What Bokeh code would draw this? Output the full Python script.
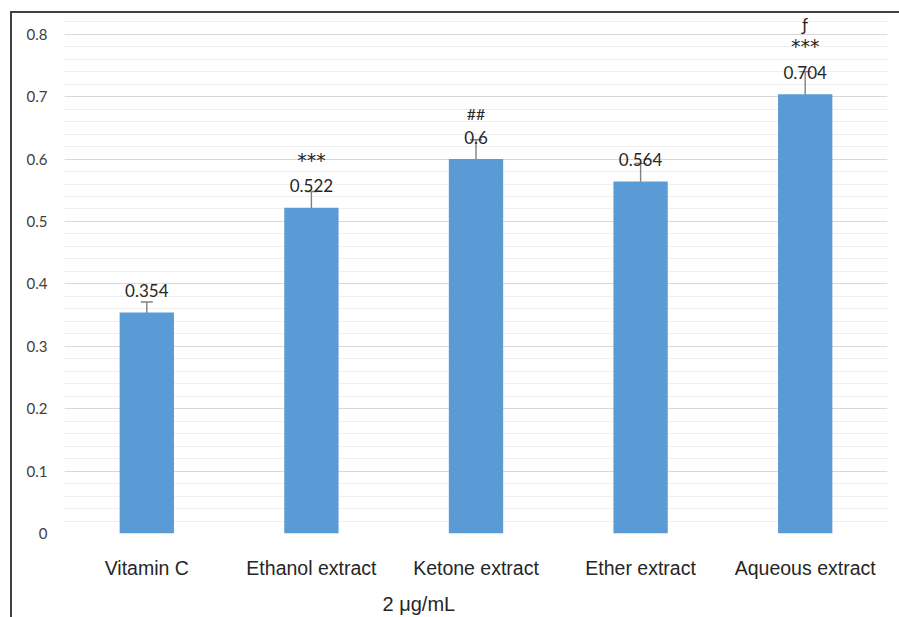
from bokeh.plotting import figure
from bokeh.models import ColumnDataSource, Whisker, TeeHead, Range1d, SingleIntervalTicker, Title
from bokeh.core.properties import value
from bokeh.embed import file_html
from bokeh.resources import INLINE

# Antioxidant response at 2 μg/mL for each sample
categories = ["Vitamin C", "Ethanol extract", "Ketone extract", "Ether extract", "Aqueous extract"]
means = [0.354, 0.522, 0.6, 0.564, 0.704]
errors = [0.017, 0.026, 0.031, 0.029, 0.036]
value_labels = ["0.354", "0.522", "0.6", "0.564", "0.704"]
sig_first = ["", "***", "##", "", "***"]
sig_second = ["", "", "", "", "ƒ"]
x_title = "2 μg/mL"

lower = [m - e for m, e in zip(means, errors)]
upper = [m + e for m, e in zip(means, errors)]

src = ColumnDataSource(data=dict(cat=categories, mean=means, lower=lower, upper=upper,
                                 vlabel=value_labels, sig2=sig_second))

# significance marks split by glyph family so each gets its own font
star_idx = [i for i, s in enumerate(sig_first) if "*" in s]
hash_idx = [i for i, s in enumerate(sig_first) if s and "*" not in s]
star_src = ColumnDataSource(data=dict(cat=[categories[i] for i in star_idx],
                                      mean=[means[i] for i in star_idx],
                                      sig=[sig_first[i] for i in star_idx]))
hash_src = ColumnDataSource(data=dict(cat=[categories[i] for i in hash_idx],
                                      mean=[means[i] for i in hash_idx],
                                      sig=[sig_first[i] for i in hash_idx]))

p = figure(
    x_range=categories, y_range=Range1d(0, 0.83),
    width=889, height=606, output_backend="svg", toolbar_location=None,
    min_border_left=52, min_border_right=14, min_border_top=2, min_border_bottom=83,
)
p.margin = (11, 0, 0, 10)
p.styles = {"border-left": "2px solid #404040", "border-top": "2px solid #404040"}
p.outline_line_color = None
p.background_fill_color = "white"

# Bars
p.vbar(x="cat", top="mean", width=0.33, source=src, fill_color="#5B9BD5", line_color=None)

# Error bars
whisk = Whisker(base="cat", upper="upper", lower="lower", source=src,
                line_color="#808080", line_width=1.4,
                upper_head=TeeHead(size=12, line_color="#808080", line_width=1.4),
                lower_head=TeeHead(size=12, line_color="#808080", line_width=1.4))
p.add_layout(whisk)

# Value labels and significance marks
common = dict(text_align="center", text_baseline="middle", text_color="#262626")
p.text(x="cat", y="mean", text="vlabel", y_offset=-22, text_font=value("Lato"),
       text_font_size="17px", source=src, **common)
p.text(x="cat", y="mean", text="sig", y_offset=-48, text_font=value("DejaVu Sans"),
       text_font_size="19px", source=star_src, **common)
p.text(x="cat", y="mean", text="sig", y_offset=-46, text_font=value("Lato"),
       text_font_size="16px", source=hash_src, **common)
p.text(x="cat", y="mean", text="sig2", y_offset=-70, text_font=value("Lato"),
       text_font_size="17px", source=src, **common)

# Axes
p.yaxis.ticker = SingleIntervalTicker(interval=0.1, num_minor_ticks=5)
p.yaxis.formatter.use_scientific = False
p.yaxis.axis_line_color = None
p.yaxis.major_tick_line_color = None
p.yaxis.minor_tick_line_color = None
p.yaxis.major_label_standoff = 11
p.yaxis.major_label_text_font = "Lato"
p.yaxis.major_label_text_font_size = "15px"
p.yaxis.major_label_text_color = "#404040"

p.xaxis.axis_line_color = None
p.xaxis.major_tick_line_color = None
p.xaxis.major_label_standoff = 17
p.xaxis.major_label_text_font = "Liberation Sans"
p.xaxis.major_label_text_font_size = "19.5px"
p.xaxis.major_label_text_color = "#262626"
# small spacer between the category labels and the title below
p.xaxis.axis_label = " "
p.xaxis.axis_label_text_font_size = "1px"
p.xaxis.axis_label_standoff = 0

# Grid: major every 0.1, lighter minor every 0.02
p.xgrid.grid_line_color = None
p.ygrid.grid_line_color = "#D9D9D9"
p.ygrid.grid_line_width = 1.2
p.ygrid.minor_grid_line_color = "#EFEFEF"
p.ygrid.minor_grid_line_width = 1

# Axis title under the category labels
p.add_layout(Title(text=x_title, align="left", offset=318, text_font="Liberation Sans",
                   text_font_size="20px", text_font_style="normal", text_color="#262626"), "below")

open("out.html", "w").write(file_html(p, INLINE))
